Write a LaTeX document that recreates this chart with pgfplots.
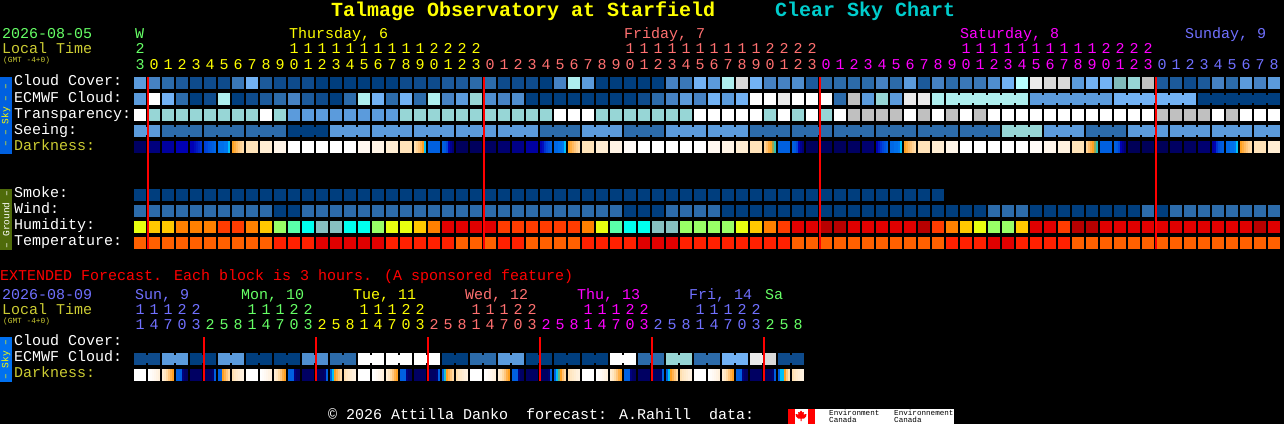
\documentclass[border=0pt]{standalone}
\usepackage{fontspec}
\setmainfont{Liberation Mono}
\usepackage{pgfplots}
\usepackage{pgfplotstable}
\pgfplotsset{compat=1.18}
\def\defc#1#2{\definecolor{c#1}{HTML}{#2}}
\defc{a}{003E7E}\defc{b}{0E4B8C}\defc{c}{1C5A9B}\defc{d}{2C6BAA}\defc{e}{3A78B8}
\defc{f}{4682C3}\defc{g}{4F8ECF}\defc{h}{5B9BDC}\defc{i}{72B2F4}\defc{j}{80BCBC}
\defc{k}{97D6D6}\defc{l}{AEEEEE}\defc{m}{B8FFFF}\defc{n}{C0C0C0}\defc{o}{D9D9D9}
\defc{p}{EAEAEA}\defc{q}{FFFFFF}\defc{r}{B80000}\defc{s}{E00000}\defc{t}{FF2000}
\defc{u}{FF3C00}\defc{v}{FF6000}\defc{w}{FF8000}\defc{x}{FFC800}\defc{y}{E8FF10}
\defc{A}{99FF66}\defc{B}{5AFFAA}\defc{C}{00FFEE}\defc{D}{87C0C0}
\definecolor{tGreen}{HTML}{66FF66}\definecolor{tYel}{HTML}{FFFF00}
\definecolor{tSal}{HTML}{FF7070}\definecolor{tMag}{HTML}{FF00FF}
\definecolor{tPer}{HTML}{7070FF}\definecolor{tOl}{HTML}{CCCC33}
\definecolor{tTeal}{HTML}{00CCCC}\definecolor{barB}{HTML}{0060E0}
\definecolor{barC}{HTML}{0070F0}\definecolor{barG}{HTML}{4F6B0A}
\pgfdeclareplotmark{block}{\pgfpathrectangle{\pgfpoint{-6pt}{-6pt}}{\pgfpoint{12pt}{12pt}}\pgfusepathqfill}
\pgfdeclareplotmark{link}{\pgfpathrectangle{\pgfpoint{-1.2pt}{-4pt}}{\pgfpoint{2.4pt}{8pt}}\pgfusepathqfill}
\pgfdeclareplotmark{stripe}{\pgfpathrectangle{\pgfpoint{-1.1pt}{-6pt}}{\pgfpoint{2.2pt}{12pt}}\pgfusepathqfill}
\pgfplotsset{
 pal/.style={scatter,only marks,point meta=explicit symbolic,
  scatter/classes={
   a={mark=#1,color=ca},b={mark=#1,color=cb},c={mark=#1,color=cc},d={mark=#1,color=cd},
   e={mark=#1,color=ce},f={mark=#1,color=cf},g={mark=#1,color=cg},h={mark=#1,color=ch},
   i={mark=#1,color=ci},j={mark=#1,color=cj},k={mark=#1,color=ck},l={mark=#1,color=cl},
   m={mark=#1,color=cm},n={mark=#1,color=cn},o={mark=#1,color=co},p={mark=#1,color=cp},
   q={mark=#1,color=cq},r={mark=#1,color=cr},s={mark=#1,color=cs},t={mark=#1,color=ct},
   u={mark=#1,color=cu},v={mark=#1,color=cv},w={mark=#1,color=cw},x={mark=#1,color=cx},
   y={mark=#1,color=cy},A={mark=#1,color=cA},B={mark=#1,color=cB},C={mark=#1,color=cC},
   D={mark=#1,color=cD},z={mark=none}}},
 dark/.style={scatter,only marks,mark=#1,point meta=explicit},
 hr/.style={only marks,mark=none,point meta=explicit symbolic,
  nodes near coords={\pgfplotspointmeta},
  every node near coord/.append style={anchor=base,inner sep=0pt,text=#1,
   font=\fontsize{15}{15}\selectfont}},
 redline/.style={draw=red,line width=2pt,no marks,on layer=axis foreground},
}
\pgfplotstableread{
i cl ec tr se sl el sm wi hu te da
0 h h q h h z a d y v 2
1 f q k h z z a d x v 8
2 d i k d d z a d x v 15
3 c d k d d z a d w v 20
4 b a k d z z a d w v 22
5 b b k d d z a d w v 28
6 b l k d d z a d u v 32
7 e a k d z z a d u v 60
8 i b k d d z a d w v 72
9 c c q d d z a d x v 78
10 b d k d z z a a A t 86
11 b f h a a z a a B t 100
12 b c h a a z a d C t 100
13 a b h a z z a d D s 100
14 a a h h h z a d D s 100
15 a d h h h z a d C s 100
16 a l h h z z a d C s 90
17 a i h h h z a d A s 85
18 a d h h h z a d y t 78
19 b i k h z z a d y t 72
20 b d k h h z a d x t 60
21 b l k h h z a d w t 30
22 c f k h z z a d s t 20
23 c h k h h z a d s v 1
24 d k k h h z a d s v 1
25 d g k h z z a d s v 2
26 b f k h h z a d u t 5
27 b g k h h z a d u t 10
28 b a k h z z a d u v 16
29 a a k d d z a d u v 24
30 f a q d d z a d u v 32
31 l a q d z z a d u v 60
32 h a q h h z a d w t 72
33 a a k h h z a d y t 78
34 a a k h z z a d B t 84
35 a a k d d z a a C t 95
36 a b k d d z a a C s 100
37 a d k d z z a a D s 100
38 f f k h h z a d D s 100
39 e h k h h z a d A t 100
40 i f q h z z a d A t 100
41 h i q h h z a d A t 90
42 l h q h h z a a A t 85
43 o i q h z z a a y t 78
44 i q q d d z a a x t 72
45 f q k d d z a a w t 50
46 f p q d z z a a u t 30
47 g q k d d z a a s v 20
48 c q q d d z a a s v 1
49 d q k d z z a a r v 1
50 d d q d d z a a r v 1
51 d n n d d z a a s v 2
52 d h n d z z a a s v 5
53 f k n d d z a a s v 25
54 d h n d d z a a s v 32
55 h p q d z z a a s v 60
56 c p n d d z a a r v 72
57 f l q d d z a a u v 78
58 d l n d z l z a w t 86
59 e l q d d l z a x t 100
60 e l n d d l z a y t 100
61 g l q d z l z d A s 100
62 i l q k k l z d A s 100
63 m l q k k z z d x t 100
64 p h q k z h z a s t 95
65 o h q h h h z a s t 88
66 o h q h h h z a u t 82
67 h h q h z h z a r v 72
68 i h q d d h z a r v 50
69 i h q d d z z a s v 30
70 j i q d z i z a s v 20
71 k i q h h i z a s v 0
72 n i q h h i z d s v 0
73 c i n h z i z a s v 0
74 c i n h h i z d s v 2
75 b i n h h z z d s v 2
76 c a n h z a z d s v 5
77 f a q h h a z d s v 22
78 d a n h h a z d s v 32
79 h a q h z a z d s v 60
80 f a q h h a z d r v 72
81 h a q h z z z d s v 78
}\hourly
\pgfplotstableread{
i ec li da t u
0 b b 100 1 1
1 b z 90 1 4
2 h h 65 1 7
3 h z 20 2 0
4 a a 2 2 3
5 a z 3 0 2
6 h h 55 0 5
7 h z 76 0 8
8 a a 100 1 1
9 a z 90 1 4
10 a a 65 1 7
11 a z 20 2 0
12 g g 2 2 3
13 g z 3 0 2
14 d d 55 0 5
15 d z 76 0 8
16 q q 100 1 1
17 q z 90 1 4
18 q q 65 1 7
19 q z 20 2 0
20 q q 2 2 3
21 q z 3 0 2
22 a a 55 0 5
23 a z 76 0 8
24 d d 100 1 1
25 d z 90 1 4
26 h h 65 1 7
27 h z 20 2 0
28 a a 2 2 3
29 a z 3 0 2
30 a a 55 0 5
31 a z 76 0 8
32 a a 100 1 1
33 a z 90 1 4
34 q q 65 1 7
35 q z 20 2 0
36 d d 2 2 3
37 d z 3 0 2
38 k k 55 0 5
39 k z 76 0 8
40 d d 100 1 1
41 d z 90 1 4
42 i i 65 1 7
43 i z 20 2 0
44 p p 2 2 3
45 o z 3 0 2
46 b b 55 0 5
47 b z 76 0 8
}\extended
\pgfplotstableread{
i t u
0 2 3
1 0 0
2 0 1
3 0 2
4 0 3
5 0 4
6 0 5
7 0 6
8 0 7
9 0 8
10 0 9
11 1 0
12 1 1
13 1 2
14 1 3
15 1 4
16 1 5
17 1 6
18 1 7
19 1 8
20 1 9
21 2 0
22 2 1
23 2 2
24 2 3
25 0 0
26 0 1
27 0 2
28 0 3
29 0 4
30 0 5
31 0 6
32 0 7
33 0 8
34 0 9
35 1 0
36 1 1
37 1 2
38 1 3
39 1 4
40 1 5
41 1 6
42 1 7
43 1 8
44 1 9
45 2 0
46 2 1
47 2 2
48 2 3
49 0 0
50 0 1
51 0 2
52 0 3
53 0 4
54 0 5
55 0 6
56 0 7
57 0 8
58 0 9
59 1 0
60 1 1
61 1 2
62 1 3
63 1 4
64 1 5
65 1 6
66 1 7
67 1 8
68 1 9
69 2 0
70 2 1
71 2 2
72 2 3
73 0 0
74 0 1
75 0 2
76 0 3
77 0 4
78 0 5
79 0 6
80 0 7
81 0 8
}\hours
\newcommand\txt[5]{\node[anchor=base west,inner sep=0pt,yshift=1pt,text=#3,font=\fontsize{#4}{#4}\selectfont] at (axis cs:#1,#2) {#5};}
\begin{document}
\begin{tikzpicture}
\begin{axis}[set layers=standard,scale only axis,width=1284pt,height=424pt,xmin=0,xmax=1284,ymin=0,ymax=424,y dir=reverse,
 axis background/.style={fill=black},axis line style={draw=none},ticks=none,
 point meta min=0,point meta max=100,
 colormap={dk}{rgb255(0)=(0,0,88);rgb255(5)=(0,0,112);rgb255(10)=(0,0,136);rgb255(15)=(0,0,158);rgb255(20)=(0,0,180);rgb255(25)=(0,64,216);rgb255(30)=(0,96,224);rgb255(33)=(0,120,240);rgb255(36)=(0,192,248);rgb255(40)=(64,192,160);rgb255(45)=(176,160,64);rgb255(50)=(255,160,32);rgb255(60)=(255,192,112);rgb255(70)=(255,224,176);rgb255(80)=(255,240,220);rgb255(90)=(255,248,240);rgb255(100)=(255,255,255)}]
% hourly rows
\addplot[pal=block] table[x expr=14*\thisrow{i}+140,y expr=83,meta=cl]{\hourly};
\addplot[pal=block] table[x expr=14*\thisrow{i}+140,y expr=99,meta=ec]{\hourly};
\addplot[pal=link] table[x expr=14*\thisrow{i}+147,y expr=99,meta=el]{\hourly};
\addplot[pal=block] table[x expr=14*\thisrow{i}+140,y expr=115,meta=tr]{\hourly};
\addplot[pal=block] table[x expr=14*\thisrow{i}+140,y expr=131,meta=se]{\hourly};
\addplot[pal=link] table[x expr=14*\thisrow{i}+147,y expr=131,meta=sl]{\hourly};
\addplot[dark=block] table[x expr=14*\thisrow{i}+140,y expr=147,meta=da]{\hourly};
\addplot[dark=stripe] coordinates {
(191,147)[20](193,147)[20](195,147)[21](197,147)[22](199,147)[23](201,147)[24]
(205,147)[25](207,147)[26](209,147)[28](211,147)[29](213,147)[30](215,147)[31]
(219,147)[32](221,147)[32](223,147)[32](225,147)[33](227,147)[33](229,147)[36]
(233,147)[50](235,147)[54](237,147)[58](239,147)[62](241,147)[66](243,147)[69]
(415,147)[70](417,147)[66](419,147)[62](421,147)[56](423,147)[50](425,147)[36]
(443,147)[30](445,147)[29](447,147)[26](449,147)[20](451,147)[12](453,147)[6]
(541,147)[20](543,147)[21](545,147)[24](547,147)[26](549,147)[28](551,147)[30]
(555,147)[31](557,147)[31](559,147)[32](561,147)[32](563,147)[33](565,147)[36]
(569,147)[50](571,147)[54](573,147)[58](575,147)[62](577,147)[66](579,147)[69]
(765,147)[66](767,147)[60](769,147)[54](771,147)[50](773,147)[44](775,147)[39]
(793,147)[30](795,147)[29](797,147)[26](799,147)[20](801,147)[12](803,147)[6]
(877,147)[20](879,147)[22](881,147)[24](883,147)[26](885,147)[28](887,147)[30]
(891,147)[31](893,147)[31](895,147)[32](897,147)[32](899,147)[33](901,147)[36]
(905,147)[50](907,147)[54](909,147)[58](911,147)[62](913,147)[66](915,147)[69]
(1087,147)[66](1089,147)[60](1091,147)[54](1093,147)[50](1095,147)[44](1097,147)[39]
(1115,147)[30](1117,147)[29](1119,147)[26](1121,147)[20](1123,147)[12](1125,147)[6]
(1213,147)[15](1215,147)[20](1217,147)[24](1219,147)[27](1221,147)[29](1223,147)[30]
(1227,147)[31](1229,147)[31](1231,147)[32](1233,147)[32](1235,147)[33](1237,147)[36]
(1241,147)[50](1243,147)[54](1245,147)[58](1247,147)[62](1249,147)[66](1251,147)[69]
};
\addplot[pal=block] table[x expr=14*\thisrow{i}+140,y expr=195,meta=sm]{\hourly};
\addplot[pal=block] table[x expr=14*\thisrow{i}+140,y expr=211,meta=wi]{\hourly};
\addplot[pal=block] table[x expr=14*\thisrow{i}+140,y expr=227,meta=hu]{\hourly};
\addplot[pal=block] table[x expr=14*\thisrow{i}+140,y expr=243,meta=te]{\hourly};
% extended rows
\addplot[pal=block] table[x expr=14*\thisrow{i}+140,y expr=359,meta=ec]{\extended};
\addplot[pal=link] table[x expr=14*\thisrow{i}+147,y expr=359,meta=li]{\extended};
\addplot[dark=block] table[x expr=14*\thisrow{i}+140,y expr=375,meta=da]{\extended};
\addplot[dark=stripe] coordinates {
(149,375)[100](151,375)[96](153,375)[92](155,375)[88](157,375)[84](159,375)[80]
(163,375)[78](165,375)[74](167,375)[68](169,375)[62](171,375)[55](173,375)[50]
(177,375)[30](179,375)[30](181,375)[30](183,375)[8](185,375)[3](187,375)[2]
(205,375)[2](207,375)[2](209,375)[2](211,375)[2](213,375)[5](215,375)[30]
(219,375)[30](221,375)[30](223,375)[50](225,375)[56](227,375)[62](229,375)[68]
(233,375)[70](235,375)[74](237,375)[76](239,375)[78](241,375)[80](243,375)[82]
(261,375)[100](263,375)[96](265,375)[92](267,375)[88](269,375)[84](271,375)[80]
(275,375)[78](277,375)[74](279,375)[68](281,375)[62](283,375)[55](285,375)[50]
(289,375)[30](291,375)[30](293,375)[30](295,375)[8](297,375)[3](299,375)[2]
(317,375)[2](319,375)[2](321,375)[2](323,375)[2](325,375)[5](327,375)[30]
(331,375)[30](333,375)[36](335,375)[50](337,375)[56](339,375)[62](341,375)[68]
(345,375)[70](347,375)[74](349,375)[76](351,375)[78](353,375)[80](355,375)[82]
(373,375)[100](375,375)[96](377,375)[92](379,375)[88](381,375)[84](383,375)[80]
(387,375)[78](389,375)[74](391,375)[68](393,375)[62](395,375)[55](397,375)[50]
(401,375)[30](403,375)[30](405,375)[30](407,375)[8](409,375)[3](411,375)[2]
(429,375)[2](431,375)[2](433,375)[2](435,375)[2](437,375)[5](439,375)[30]
(443,375)[30](445,375)[38](447,375)[50](449,375)[56](451,375)[62](453,375)[68]
(457,375)[70](459,375)[74](461,375)[76](463,375)[78](465,375)[80](467,375)[82]
(485,375)[100](487,375)[96](489,375)[92](491,375)[88](493,375)[84](495,375)[80]
(499,375)[78](501,375)[74](503,375)[68](505,375)[62](507,375)[55](509,375)[50]
(513,375)[30](515,375)[30](517,375)[30](519,375)[8](521,375)[3](523,375)[2]
(541,375)[2](543,375)[2](545,375)[2](547,375)[2](549,375)[5](551,375)[30]
(555,375)[30](557,375)[36](559,375)[42](561,375)[50](563,375)[60](565,375)[68]
(569,375)[70](571,375)[74](573,375)[76](575,375)[78](577,375)[80](579,375)[82]
(597,375)[100](599,375)[96](601,375)[92](603,375)[88](605,375)[84](607,375)[80]
(611,375)[78](613,375)[74](615,375)[68](617,375)[62](619,375)[55](621,375)[50]
(625,375)[30](627,375)[30](629,375)[30](631,375)[8](633,375)[3](635,375)[2]
(653,375)[2](655,375)[2](657,375)[2](659,375)[2](661,375)[5](663,375)[30]
(667,375)[30](669,375)[36](671,375)[50](673,375)[56](675,375)[62](677,375)[68]
(681,375)[70](683,375)[74](685,375)[76](687,375)[78](689,375)[80](691,375)[82]
(709,375)[100](711,375)[96](713,375)[92](715,375)[88](717,375)[84](719,375)[80]
(723,375)[78](725,375)[74](727,375)[68](729,375)[62](731,375)[55](733,375)[50]
(737,375)[30](739,375)[30](741,375)[30](743,375)[8](745,375)[3](747,375)[2]
(765,375)[2](767,375)[2](769,375)[2](771,375)[2](773,375)[5](775,375)[30]
(779,375)[30](781,375)[36](783,375)[36](785,375)[50](787,375)[62](789,375)[70]
(793,375)[70](795,375)[74](797,375)[76](799,375)[78](801,375)[80](803,375)[82]
};
% midnight lines
\addplot[redline] coordinates {(148,77)(148,249)};
\addplot[redline] coordinates {(484,77)(484,249)};
\addplot[redline] coordinates {(820,77)(820,249)};
\addplot[redline] coordinates {(1156,77)(1156,249)};
\addplot[redline] coordinates {(204,337)(204,381)};
\addplot[redline] coordinates {(316,337)(316,381)};
\addplot[redline] coordinates {(428,337)(428,381)};
\addplot[redline] coordinates {(540,337)(540,381)};
\addplot[redline] coordinates {(652,337)(652,381)};
\addplot[redline] coordinates {(764,337)(764,381)};
% hour digits
\addplot[hr=tGreen,restrict x to domain=139:141] table[x expr=14*\thisrow{i}+140,y expr=70,meta=u]{\hours};
\addplot[hr=tYel,restrict x to domain=150:480] table[x expr=14*\thisrow{i}+140,y expr=70,meta=u]{\hours};
\addplot[hr=tSal,restrict x to domain=486:816] table[x expr=14*\thisrow{i}+140,y expr=70,meta=u]{\hours};
\addplot[hr=tMag,restrict x to domain=822:1152] table[x expr=14*\thisrow{i}+140,y expr=70,meta=u]{\hours};
\addplot[hr=tPer,restrict x to domain=1158:1280] table[x expr=14*\thisrow{i}+140,y expr=70,meta=u]{\hours};
\addplot[hr=tGreen,restrict x to domain=139:141] table[x expr=14*\thisrow{i}+140,y expr=54,meta=t]{\hours};
\addplot[hr=tYel,restrict x to domain=290:480] table[x expr=14*\thisrow{i}+140,y expr=54,meta=t]{\hours};
\addplot[hr=tSal,restrict x to domain=626:816] table[x expr=14*\thisrow{i}+140,y expr=54,meta=t]{\hours};
\addplot[hr=tMag,restrict x to domain=962:1152] table[x expr=14*\thisrow{i}+140,y expr=54,meta=t]{\hours};
\addplot[hr=tPer,restrict x to domain=136:200] table[x expr=14*\thisrow{i}+140,y expr=329,meta=u]{\extended};
\addplot[hr=tGreen,restrict x to domain=206:312] table[x expr=14*\thisrow{i}+140,y expr=329,meta=u]{\extended};
\addplot[hr=tYel,restrict x to domain=318:424] table[x expr=14*\thisrow{i}+140,y expr=329,meta=u]{\extended};
\addplot[hr=tSal,restrict x to domain=430:536] table[x expr=14*\thisrow{i}+140,y expr=329,meta=u]{\extended};
\addplot[hr=tMag,restrict x to domain=542:648] table[x expr=14*\thisrow{i}+140,y expr=329,meta=u]{\extended};
\addplot[hr=tPer,restrict x to domain=654:760] table[x expr=14*\thisrow{i}+140,y expr=329,meta=u]{\extended};
\addplot[hr=tGreen,restrict x to domain=766:802] table[x expr=14*\thisrow{i}+140,y expr=329,meta=u]{\extended};
\addplot[hr=tPer,restrict x to domain=136:200] table[x expr=14*\thisrow{i}+140,y expr=314,meta=t]{\extended};
\addplot[hr=tGreen,restrict x to domain=248:312] table[x expr=14*\thisrow{i}+140,y expr=314,meta=t]{\extended};
\addplot[hr=tYel,restrict x to domain=360:424] table[x expr=14*\thisrow{i}+140,y expr=314,meta=t]{\extended};
\addplot[hr=tSal,restrict x to domain=472:536] table[x expr=14*\thisrow{i}+140,y expr=314,meta=t]{\extended};
\addplot[hr=tMag,restrict x to domain=584:648] table[x expr=14*\thisrow{i}+140,y expr=314,meta=t]{\extended};
\addplot[hr=tPer,restrict x to domain=696:760] table[x expr=14*\thisrow{i}+140,y expr=314,meta=t]{\extended};
% side bars
\fill[barB] (axis cs:0,77) rectangle (axis cs:12,154);
\fill[barG] (axis cs:0,189) rectangle (axis cs:12,250);
\fill[barC] (axis cs:0,337) rectangle (axis cs:12,382);
\node[rotate=90,inner sep=0pt,text=tYel,font=\fontsize{9.5}{9.5}\selectfont] at (axis cs:6,115.5) {– – Sky – –};
\node[rotate=90,inner sep=0pt,text=white,font=\fontsize{9.5}{9.5}\selectfont] at (axis cs:6,219.5) {– Ground –};
\node[rotate=90,inner sep=0pt,text=tYel,font=\fontsize{9.5}{9.5}\selectfont] at (axis cs:6,359.5) {– Sky –};
% titles
\node[anchor=base west,inner sep=0pt,yshift=1pt,text=tYel,font=\fontsize{20}{20}\selectfont\bfseries] at (axis cs:331,18) {Talmage Observatory at Starfield};
\node[anchor=base west,inner sep=0pt,yshift=1pt,text=tTeal,font=\fontsize{20}{20}\selectfont\bfseries] at (axis cs:775,18) {Clear Sky Chart};
% header
\txt{2}{40}{tGreen}{15}{2026-08-05}
\txt{2}{55}{tOl}{15}{Local Time}
\txt{3}{64}{tOl}{7.8}{(GMT -4+0)}
\txt{135}{40}{tGreen}{15}{W}
\txt{289}{40}{tYel}{15}{Thursday, 6}
\txt{624}{40}{tSal}{15}{Friday, 7}
\txt{960}{40}{tMag}{15}{Saturday, 8}
\txt{1185}{40}{tPer}{15}{Sunday, 9}
% row labels
\txt{14}{87}{white}{15}{Cloud Cover:}
\txt{14}{103}{white}{15}{ECMWF Cloud:}
\txt{14}{119}{white}{15}{Transparency:}
\txt{14}{135}{white}{15}{Seeing:}
\txt{14}{151}{tOl}{15}{Darkness:}
\txt{14}{198}{white}{15}{Smoke:}
\txt{14}{214}{white}{15}{Wind:}
\txt{14}{230}{white}{15}{Humidity:}
\txt{14}{246}{white}{15}{Temperature:}
\txt{0}{281}{red}{15}{EXTENDED Forecast. Each block is 3 hours. (A sponsored feature)}
\txt{2}{300}{tPer}{15}{2026-08-09}
\txt{2}{315}{tOl}{15}{Local Time}
\txt{3}{324}{tOl}{7.8}{(GMT -4+0)}
\txt{135}{300}{tPer}{15}{Sun, 9}
\txt{241}{300}{tGreen}{15}{Mon, 10}
\txt{353}{300}{tYel}{15}{Tue, 11}
\txt{465}{300}{tSal}{15}{Wed, 12}
\txt{577}{300}{tMag}{15}{Thu, 13}
\txt{689}{300}{tPer}{15}{Fri, 14}
\txt{765}{300}{tGreen}{15}{Sa}
\txt{14}{346}{white}{15}{Cloud Cover:}
\txt{14}{362}{white}{15}{ECMWF Cloud:}
\txt{14}{378}{tOl}{15}{Darkness:}
% footer
\txt{328}{420}{white}{15}{© 2026 Attilla Danko~~forecast: A.Rahill~~data:}
\fill[white] (axis cs:788,409) rectangle (axis cs:954,424);
\fill[red] (axis cs:788,409) rectangle (axis cs:795,424);
\fill[red] (axis cs:807.5,409) rectangle (axis cs:815,424);
\fill[red] (axis cs:801,410.5) -- (axis cs:802.5,412.5) -- (axis cs:804,412) -- (axis cs:803.5,414.5) -- (axis cs:806.5,414) -- (axis cs:806,416.5) -- (axis cs:804,418.5) -- (axis cs:801.5,418.5) -- (axis cs:801.5,421) -- (axis cs:800.5,421) -- (axis cs:800.5,418.5) -- (axis cs:798,418.5) -- (axis cs:796,416.5) -- (axis cs:795.5,414) -- (axis cs:798.5,414.5) -- (axis cs:798,412) -- (axis cs:799.5,412.5) -- cycle;
\txt{829}{416}{black}{7.6}{Environment}
\txt{829}{423}{black}{7.6}{Canada}
\txt{894}{416}{black}{7.6}{Environnement}
\txt{894}{423}{black}{7.6}{Canada}
\end{axis}
\end{tikzpicture}
\end{document}
